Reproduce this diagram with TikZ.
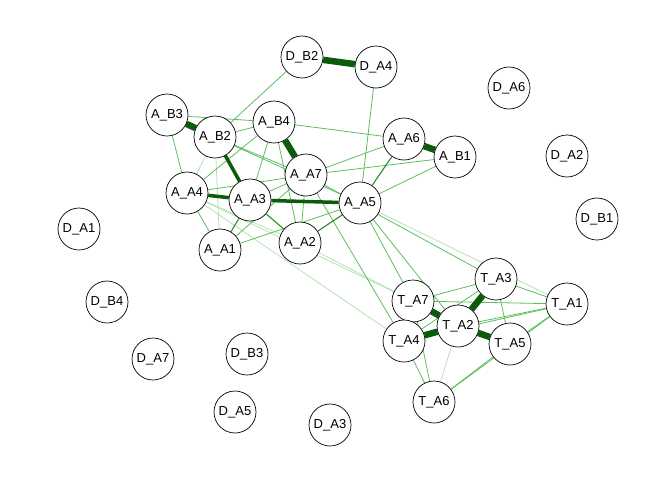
\documentclass[tikz,border=0pt]{standalone}
\usepackage{fontspec}
\setmainfont{Liberation Sans}
\usepackage{tikz}
\usetikzlibrary{backgrounds}
\definecolor{E_STRONG}{HTML}{0A5C0A}
\definecolor{E_MID}   {HTML}{2E8B2E}
\definecolor{E_WEAK}  {HTML}{5CBF5C}
\definecolor{E_FAINT} {HTML}{B5E2B5}
\tikzset{
  %% -- network item --
  net/item/.style={
    draw, circle, fill=white, line width=0.7pt, minimum size=42pt,
    inner sep=0pt, font=\fontsize{13}{15}\selectfont
  },
  %% -- edge weights --
  net/e4/.style={draw=E_STRONG, line width=6.5pt},
  net/e2/.style={draw=E_STRONG, line width=3.5pt},
  net/e1/.style={draw=E_MID, line width=1.1pt},
  net/e0/.style={draw=E_WEAK, line width=0.8pt},
  net/ef/.style={draw=E_FAINT, line width=0.8pt},
}
\begin{document}
\begin{tikzpicture}[x=1pt, y=-1pt]
\useasboundingbox (0,0) rectangle (672,480);
%% Nodes
\node[net/item] (db2) at (302, 57)  {D\_B2};
\node[net/item] (da4) at (376, 67)  {D\_A4};
\node[net/item] (da6) at (509, 88)  {D\_A6};
\node[net/item] (ab3) at (167,115)  {A\_B3};
\node[net/item] (ab2) at (215,137)  {A\_B2};
\node[net/item] (ab4) at (274,122)  {A\_B4};
\node[net/item] (aa6) at (404,139)  {A\_A6};
\node[net/item] (ab1) at (455,157)  {A\_B1};
\node[net/item] (da2) at (567,156)  {D\_A2};
\node[net/item] (aa7) at (306,175)  {A\_A7};
\node[net/item] (aa4) at (187,193)  {A\_A4};
\node[net/item] (aa3) at (250,200)  {A\_A3};
\node[net/item] (aa5) at (360,203)  {A\_A5};
\node[net/item] (db1) at (597,219)  {D\_B1};
\node[net/item] (da1) at ( 79,229)  {D\_A1};
\node[net/item] (aa1) at (220,250)  {A\_A1};
\node[net/item] (aa2) at (300,243)  {A\_A2};
\node[net/item] (ta3) at (496,279)  {T\_A3};
\node[net/item] (db4) at (107,302)  {D\_B4};
\node[net/item] (ta7) at (413,301)  {T\_A7};
\node[net/item] (ta1) at (567,304)  {T\_A1};
\node[net/item] (ta2) at (458,326)  {T\_A2};
\node[net/item] (ta4) at (404,341)  {T\_A4};
\node[net/item] (ta5) at (510,344)  {T\_A5};
\node[net/item] (da7) at (153,359)  {D\_A7};
\node[net/item] (db3) at (247,354)  {D\_B3};
\node[net/item] (ta6) at (434,402)  {T\_A6};
\node[net/item] (da5) at (235,412)  {D\_A5};
\node[net/item] (da3) at (330,425)  {D\_A3};

%% Edges (behind the nodes)
\begin{scope}[on background layer]
\foreach \a/\b in {ab2/aa1, ab2/aa4, aa4/aa2, aa4/ta4, aa4/ta7,
                   aa2/ta7, ta2/ta6, aa5/ta1}
  \draw[net/ef] (\a) -- (\b);
\foreach \a/\b in {db2/ab2, da4/aa5, ab3/ab4, ab3/aa4, ab4/aa6,
                   ab2/ab4, ab2/aa7, ab2/aa5, ab4/aa4, ab4/aa3,
                   ab4/aa2, aa7/aa4, aa7/aa3, aa7/aa6, aa7/ab1,
                   aa7/aa2, aa7/aa1, ab1/aa5, aa5/aa1, aa4/aa1,
                   aa7/ta4, aa5/ta7, aa5/ta2, aa7/ta3, ta7/ta3,
                   ta7/ta1, ta4/ta3, ta4/ta1, ta4/ta6, ta7/ta6,
                   ta3/ta5, ta3/ta1, ta2/ta1, ta1/ta6, ta1/ta5,
                   ta5/ta6}
  \draw[net/e0] (\a) -- (\b);
\foreach \a/\b in {aa6/aa5, aa5/aa2, aa3/aa1, aa3/aa2}
  \draw[net/e1] (\a) -- (\b);
\foreach \a/\b in {ab2/aa3, aa4/aa3, aa3/aa5}
  \draw[net/e2] (\a) -- (\b);
\foreach \a/\b in {db2/da4, ab3/ab2, ab4/aa7, aa6/ab1,
                   ta7/ta2, ta4/ta2, ta3/ta2, ta2/ta5}
  \draw[net/e4] (\a) -- (\b);
\end{scope}
\end{tikzpicture}
\end{document}
